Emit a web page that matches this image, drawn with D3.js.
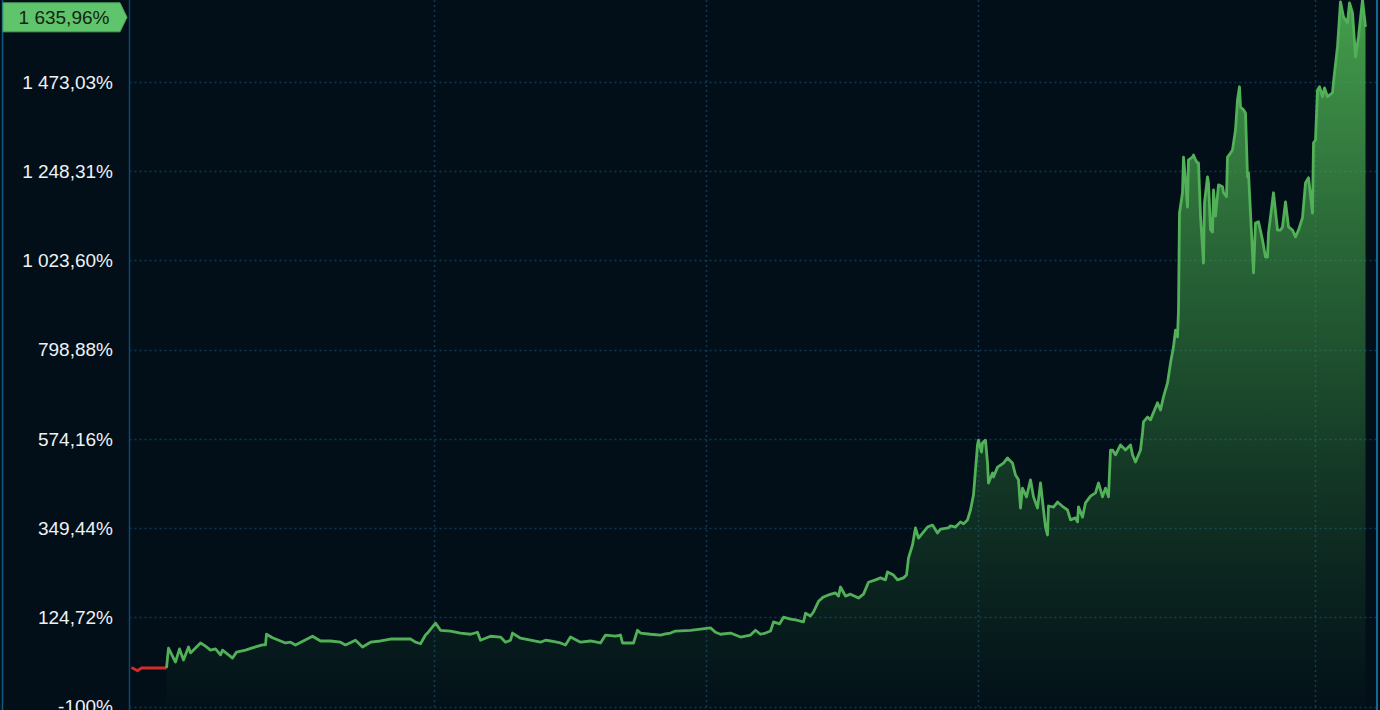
<!DOCTYPE html>
<html>
<head>
<meta charset="utf-8">
<script src="https://cdn.jsdelivr.net/npm/d3@7"></script>
<style>
  html, body { margin: 0; padding: 0; background: #020f18; overflow: hidden; }
  #chart { width: 1380px; height: 710px; }
  text { font-family: "Liberation Sans", Arial, sans-serif; }
</style>
</head>
<body>
<div id="chart"></div>
<script>
// Y ticks (percent) and their labels as shown on the terminal.
const yTicks = [-100, 124.72, 349.44, 574.16, 798.88, 1023.60, 1248.31, 1473.03];
const yTickLabels = ['-100%', '124,72%', '349,44%', '574,16%', '798,88%', '1 023,60%', '1 248,31%', '1 473,03%'];

// Vertical grid positions, in trading-day index.
const xGrid = [304, 576, 848, 1185];

const lastValue = 1635.96;
const lastLabel = '1 635,96%';

// Opening stretch under water: [day, %]
const lossSeries = [[2, -2], [8, -10], [12, -3], [37, -3]];

// Main performance series: [day, %]
const gainSeries = [
  [37, -3], [39, 47], [46, 12], [50, 45], [54, 17], [59, 50], [61, 35], [71, 60], [76, 52],
  [81, 42], [86, 45], [91, 30], [93, 42], [99, 30], [103, 22], [107, 37], [116, 42], [126, 50],
  [133, 55], [136, 55], [137, 82], [143, 73], [151, 65], [156, 60], [161, 62], [166, 55],
  [183, 77], [191, 65], [201, 65], [211, 62], [216, 55], [226, 67], [233, 50], [241, 62],
  [251, 65], [261, 70], [271, 70], [281, 70], [286, 62], [291, 58], [296, 80], [298, 85],
  [306, 110], [311, 92], [321, 90], [331, 85], [341, 82], [348, 87], [351, 67], [361, 77],
  [371, 75], [376, 62], [381, 67], [383, 85], [391, 72], [401, 67], [411, 62], [416, 67],
  [421, 65], [431, 60], [436, 55], [441, 75], [451, 62], [461, 65], [471, 60], [476, 80],
  [486, 77], [491, 80], [493, 60], [504, 60], [508, 92], [511, 85], [521, 82], [531, 80],
  [536, 83], [541, 85], [546, 90], [561, 92], [571, 95], [581, 98], [586, 87], [591, 82],
  [601, 85], [611, 75], [621, 80], [626, 92], [631, 82], [636, 85], [641, 90], [644, 113],
  [650, 108], [654, 125], [661, 120], [666, 118], [671, 115], [674, 113], [676, 135],
  [681, 128], [684, 138], [689, 165], [694, 176], [699, 181], [706, 186], [709, 178],
  [711, 201], [716, 178], [721, 183], [729, 173], [734, 183], [739, 213], [746, 219],
  [751, 224], [756, 219], [758, 239], [764, 231], [768, 219], [774, 224], [777, 231],
  [779, 274], [783, 307], [786, 350], [789, 324], [798, 352], [803, 357], [808, 337],
  [811, 347], [819, 350], [821, 355], [826, 352], [831, 365], [834, 360], [838, 370],
  [841, 395], [844, 433], [846, 496], [848, 559], [849, 571], [852, 541], [853, 564],
  [856, 571], [858, 513], [859, 463], [863, 488], [864, 478], [868, 503], [874, 513],
  [878, 526], [883, 513], [886, 483], [889, 471], [891, 400], [893, 450], [897, 428],
  [901, 471], [904, 428], [908, 400], [911, 463], [914, 395], [916, 352], [918, 332],
  [919, 405], [924, 402], [928, 415], [934, 402], [938, 395], [941, 370], [946, 375],
  [948, 365], [949, 403], [953, 377], [956, 413], [961, 430], [966, 438], [969, 463],
  [973, 428], [976, 450], [979, 428], [981, 546], [983, 546], [986, 534], [991, 559],
  [996, 546], [1001, 559], [1003, 534], [1006, 516], [1009, 534], [1011, 546], [1013, 589],
  [1014, 617], [1018, 629], [1021, 622], [1028, 665], [1031, 647], [1034, 680], [1038, 715],
  [1041, 765], [1044, 806], [1046, 848], [1048, 831], [1049, 899], [1050, 1143], [1053, 1194],
  [1054, 1284], [1056, 1226], [1058, 1158], [1059, 1277], [1063, 1284], [1064, 1289],
  [1066, 1277], [1068, 1269], [1069, 1269], [1071, 1135], [1074, 1017], [1075, 1169],
  [1078, 1234], [1079, 1219], [1081, 1101], [1083, 1095], [1084, 1201], [1086, 1135],
  [1089, 1214], [1093, 1209], [1094, 1194], [1097, 1184], [1098, 1284], [1101, 1294],
  [1103, 1302], [1106, 1352], [1108, 1428], [1110, 1461], [1111, 1410], [1114, 1403],
  [1116, 1395], [1118, 1234], [1119, 1244], [1124, 992], [1126, 1118], [1129, 1121],
  [1133, 1075], [1136, 1032], [1138, 1032], [1139, 1093], [1144, 1194], [1148, 1100],
  [1151, 1100], [1153, 1108], [1156, 1171], [1159, 1108], [1163, 1100], [1166, 1083],
  [1169, 1100], [1173, 1131], [1176, 1219], [1179, 1232], [1183, 1143], [1184, 1320],
  [1186, 1327], [1188, 1453], [1190, 1461], [1193, 1436], [1195, 1458], [1198, 1436],
  [1203, 1446], [1204, 1473], [1208, 1562], [1211, 1675], [1214, 1637], [1218, 1622],
  [1220, 1672], [1223, 1647], [1226, 1536], [1229, 1587], [1233, 1680], [1236, 1612]
];

const attrs = {
  svgWidth: 1380,
  svgHeight: 710,
  plotLeft: 129.5,
  plotRight: 1377,
  bg: '#020f18',
  gridColor: '#0c3a55',
  axisColor: '#0b4a6e',
  lineColor: '#52b058',
  lossColor: '#d42a2a',
  labelFill: '#5fc46b',
};

const svg = d3.select('#chart').append('svg')
  .attr('width', attrs.svgWidth)
  .attr('height', attrs.svgHeight);

svg.append('rect')
  .attr('width', attrs.svgWidth)
  .attr('height', attrs.svgHeight)
  .attr('fill', attrs.bg);

// Scales.
const x = d3.scaleLinear()
  .domain([0, attrs.plotRight - attrs.plotLeft])
  .range([attrs.plotLeft, attrs.plotRight]);

const y = d3.scaleLinear()
  .domain([-100, 1473.03])
  .range([706.5, 82]);

// Gradient for the area under the curve.
const defs = svg.append('defs');
const grad = defs.append('linearGradient')
  .attr('id', 'areaGrad')
  .attr('gradientUnits', 'userSpaceOnUse')
  .attr('x1', 0).attr('x2', 0)
  .attr('y1', 0).attr('y2', y(-100));
grad.append('stop').attr('offset', '0%').attr('stop-color', '#4cae52').attr('stop-opacity', 0.9);
grad.append('stop').attr('offset', '55%').attr('stop-color', '#3f9a48').attr('stop-opacity', 0.42);
grad.append('stop').attr('offset', '100%').attr('stop-color', '#2e7a38').attr('stop-opacity', 0.02);

defs.append('clipPath').attr('id', 'plotClip')
  .append('rect')
  .attr('x', attrs.plotLeft).attr('y', 0)
  .attr('width', attrs.plotRight - attrs.plotLeft)
  .attr('height', attrs.svgHeight);

// Grid.
const grid = svg.append('g').attr('class', 'grid');
grid.selectAll('.h-grid')
  .data(yTicks)
  .enter().append('line')
  .attr('class', 'h-grid')
  .attr('x1', attrs.plotLeft).attr('x2', attrs.plotRight)
  .attr('y1', d => Math.round(y(d)) + 0.5)
  .attr('y2', d => Math.round(y(d)) + 0.5)
  .attr('stroke', attrs.gridColor)
  .attr('stroke-width', 1.5)
  .attr('stroke-dasharray', '2 3');

grid.selectAll('.v-grid')
  .data(xGrid)
  .enter().append('line')
  .attr('class', 'v-grid')
  .attr('x1', d => Math.round(x(d)) + 0.5)
  .attr('x2', d => Math.round(x(d)) + 0.5)
  .attr('y1', 0).attr('y2', attrs.svgHeight)
  .attr('stroke', attrs.gridColor)
  .attr('stroke-width', 1.5)
  .attr('stroke-dasharray', '2 3');

// Area + lines.
const plot = svg.append('g').attr('clip-path', 'url(#plotClip)');

const area = d3.area()
  .x(d => x(d[0]))
  .y0(y(-100))
  .y1(d => y(d[1]));

const line = d3.line()
  .x(d => x(d[0]))
  .y(d => y(d[1]));

plot.append('path')
  .datum(gainSeries)
  .attr('d', area)
  .attr('fill', 'url(#areaGrad)');

plot.append('path')
  .datum(lossSeries)
  .attr('d', line)
  .attr('fill', 'none')
  .attr('stroke', attrs.lossColor)
  .attr('stroke-width', 2.8)
  .attr('stroke-linejoin', 'round');

plot.append('path')
  .datum(gainSeries)
  .attr('d', line)
  .attr('fill', 'none')
  .attr('stroke', attrs.lineColor)
  .attr('stroke-width', 2.8)
  .attr('stroke-linejoin', 'round');

// Frame lines.
svg.append('line')
  .attr('x1', attrs.plotLeft).attr('x2', attrs.plotLeft)
  .attr('y1', 0).attr('y2', attrs.svgHeight)
  .attr('stroke', attrs.axisColor).attr('stroke-width', 1.5);
svg.append('line')
  .attr('x1', 2.5).attr('x2', 2.5)
  .attr('y1', 0).attr('y2', attrs.svgHeight)
  .attr('stroke', '#0f5a85').attr('stroke-width', 1.5);
svg.append('line')
  .attr('x1', attrs.plotRight).attr('x2', attrs.plotRight)
  .attr('y1', 0).attr('y2', attrs.svgHeight)
  .attr('stroke', '#146894').attr('stroke-width', 2);

// Y axis labels.
svg.append('g')
  .selectAll('text')
  .data(yTicks)
  .enter().append('text')
  .attr('x', 113)
  .attr('y', d => y(d))
  .attr('dy', '0.35em')
  .attr('text-anchor', 'end')
  .attr('fill', '#eef2f5')
  .attr('font-size', '19px')
  .text((d, i) => yTickLabels[i]);

// Last value badge.
const ly = y(lastValue);
const badge = svg.append('g');
badge.append('path')
  .attr('d', `M3,${ly - 14.5} H120 L127,${ly} L120,${ly + 14.5} H3 Z`)
  .attr('fill', attrs.labelFill)
  .attr('stroke', '#4aa656')
  .attr('stroke-width', 1);
badge.append('text')
  .attr('x', 64)
  .attr('y', ly)
  .attr('dy', '0.35em')
  .attr('text-anchor', 'middle')
  .attr('fill', '#142414')
  .attr('font-size', '19px')
  .text(lastLabel);
</script>
</body>
</html>
